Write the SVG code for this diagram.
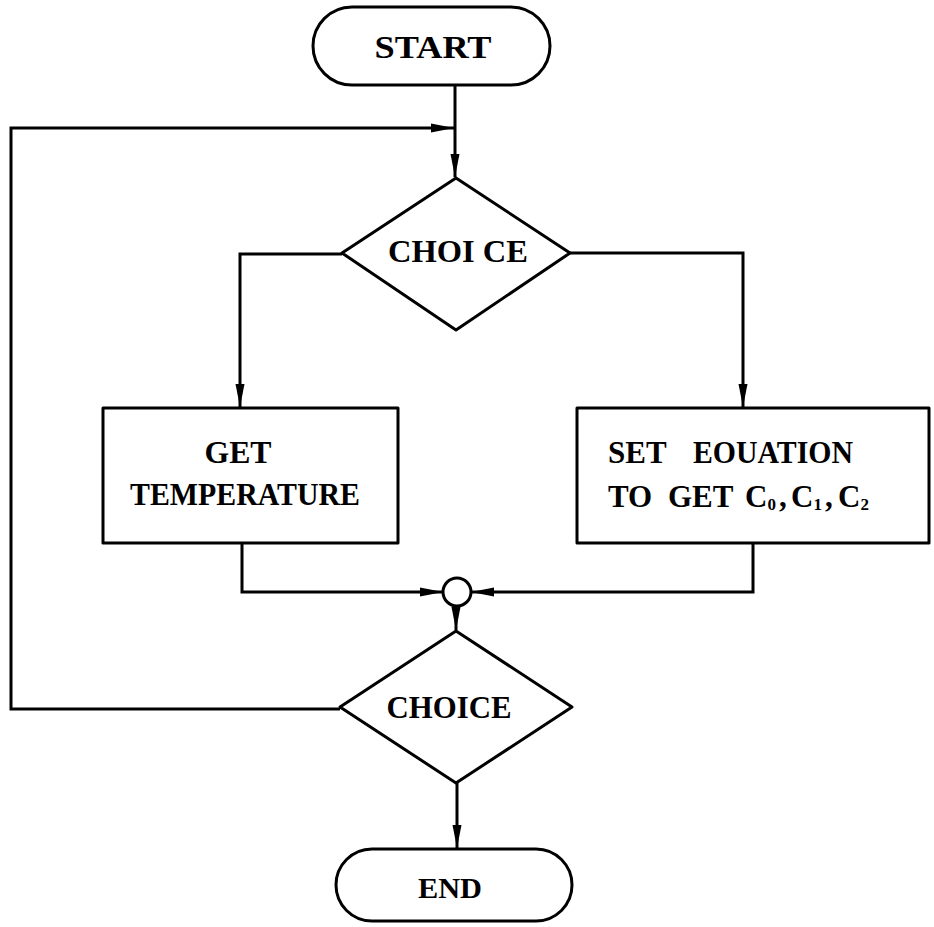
<svg xmlns="http://www.w3.org/2000/svg" width="934" height="927" viewBox="0 0 934 927">
<style>
.shape{fill:#fff;stroke:#000;stroke-width:3;stroke-linejoin:round}
.conn{fill:none;stroke:#000;stroke-width:3;stroke-linejoin:miter}
.lbl{font-family:"Liberation Serif","DejaVu Serif",serif;font-weight:bold;fill:#000}
</style>
<defs>
<marker id="arr" markerUnits="userSpaceOnUse" markerWidth="26" markerHeight="12" refX="23" refY="5" orient="auto">
<path d="M0,0.5 L23,5 L0,9.5 Z" fill="#000"/>
</marker>
</defs>
<rect width="934" height="927" fill="#fff"/>
<g id="connectors">
<path class="conn" d="M455,85 L455,177" marker-end="url(#arr)"/>
<path class="conn" d="M340,709 L11,709 L11,128 L454,128" marker-end="url(#arr)"/>
<path class="conn" d="M342,254 L240,254 L240,407" marker-end="url(#arr)"/>
<path class="conn" d="M570,253 L743,253 L743,407" marker-end="url(#arr)"/>
<path class="conn" d="M242,543 L242,592 L443,592" marker-end="url(#arr)"/>
<path class="conn" d="M753,543 L753,592 L471,592" marker-end="url(#arr)"/>
<path class="conn" d="M456,606 L456,630" marker-end="url(#arr)"/>
<path class="conn" d="M457,783 L457,848" marker-end="url(#arr)"/>
</g>
<g id="start">
<rect class="shape" x="313" y="7" width="237" height="78" rx="39"/>
<text class="lbl" x="433" y="58" font-size="31" text-anchor="middle" textLength="117" lengthAdjust="spacingAndGlyphs">START</text>
</g>
<g id="choice1">
<polygon class="shape" points="456,178 570,253 456,330 342,253"/>
<text class="lbl" x="458" y="262" font-size="32" text-anchor="middle" textLength="140" lengthAdjust="spacingAndGlyphs">CHOI CE</text>
</g>
<g id="get-temperature">
<rect class="shape" x="103" y="408" width="295" height="135"/>
<text class="lbl" x="238" y="463" font-size="32" text-anchor="middle" textLength="67" lengthAdjust="spacingAndGlyphs">GET</text>
<text class="lbl" x="245" y="505" font-size="32" text-anchor="middle" textLength="230" lengthAdjust="spacingAndGlyphs">TEMPERATURE</text>
</g>
<g id="set-equation">
<rect class="shape" x="577" y="408" width="352" height="135"/>
<text class="lbl" font-size="31"><tspan x="608" y="463">SET</tspan><tspan x="693" y="463" textLength="160" lengthAdjust="spacingAndGlyphs">EOUATION</tspan></text>
<text class="lbl" font-size="31"><tspan x="608" y="507">TO</tspan><tspan x="668" y="507">GET</tspan><tspan x="745" y="507">C</tspan><tspan font-size="17" dy="3">0</tspan><tspan x="779" y="507">,</tspan><tspan x="791" y="507">C</tspan><tspan font-size="17" dy="3">1</tspan><tspan x="825" y="507">,</tspan><tspan x="838" y="507">C</tspan><tspan font-size="17" dy="3">2</tspan></text>
</g>
<g id="junction">
<circle class="shape" cx="457" cy="592" r="14"/>
</g>
<g id="choice2">
<polygon class="shape" points="456,631 572,707 456,783 340,707"/>
<text class="lbl" x="449" y="718" font-size="32" text-anchor="middle" textLength="125" lengthAdjust="spacingAndGlyphs">CHOICE</text>
</g>
<g id="end">
<rect class="shape" x="336" y="849" width="236" height="72" rx="36"/>
<text class="lbl" x="450" y="898" font-size="30" text-anchor="middle" textLength="64" lengthAdjust="spacingAndGlyphs">END</text>
</g>
</svg>
